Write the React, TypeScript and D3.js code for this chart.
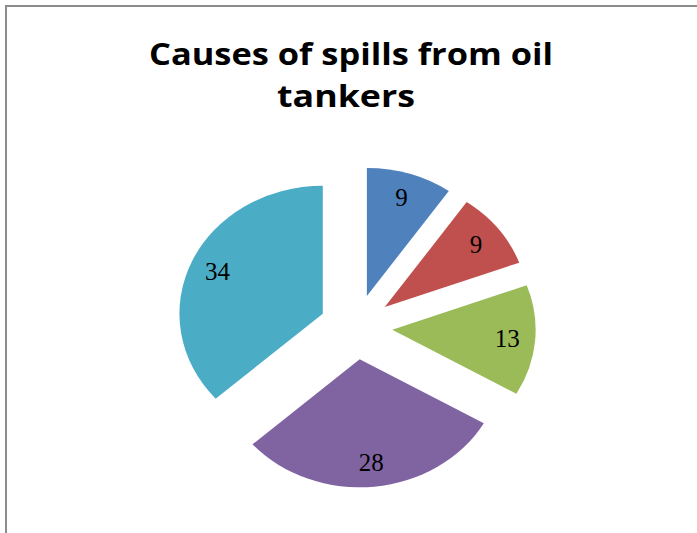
import React from "react";
import * as d3 from "d3";

const title = ["Causes of spills from oil", "tankers"];
const categories = ["Cause A", "Cause B", "Cause C", "Cause D", "Cause E"];
const values = [9, 9, 13, 28, 34];
const colors = ["#4F81BD", "#C0504D", "#9BBB59", "#8064A2", "#4BACC6"];

const W = 697;
const H = 533;
const cx = 356;
const cy = 327;
const radius = 128;
const sx = 1.12;
const explode = 32.5;
const labelR = 103;

export default function App() {
  const pie = d3
    .pie<number>()
    .sort(null)
    .value((d) => d)
    .startAngle(0)
    .endAngle(2 * Math.PI);
  const arcs = pie(values);
  const arc = d3.arc<d3.PieArcDatum<number>>().innerRadius(0).outerRadius(radius);

  const titleStyle = {
    fontFamily: "'Open Sans', sans-serif",
    fontWeight: 700,
    fontSize: 30.5,
    fill: "#000",
  } as const;

  return (
    <svg
      width={W}
      height={H}
      style={{ position: "absolute", left: 0, top: 0, background: "#fff" }}
    >
      <rect x={0} y={0} width={W} height={H} fill="#ffffff" />
      <path d={`M6,${H} L6,6 L${W},6`} fill="none" stroke="#8c8c8c" strokeWidth={2} />
      <text
        x={351}
        y={65}
        textAnchor="middle"
        textLength={404}
        lengthAdjust="spacingAndGlyphs"
        style={titleStyle}
      >
        {title[0]}
      </text>
      <text
        x={346}
        y={107}
        textAnchor="middle"
        textLength={138}
        lengthAdjust="spacingAndGlyphs"
        style={titleStyle}
      >
        {title[1]}
      </text>
      <g transform={`translate(${cx},${cy})`}>
        {arcs.map((a, i) => {
          const mid = (a.startAngle + a.endAngle) / 2;
          const ox = explode * Math.sin(mid);
          const oy = -explode * Math.cos(mid);
          return (
            <g key={categories[i]} transform={`scale(${sx},1) translate(${ox},${oy})`}>
              <path d={arc(a) || ""} fill={colors[i]} />
            </g>
          );
        })}
        {arcs.map((a, i) => {
          const mid = (a.startAngle + a.endAngle) / 2;
          const rr = explode + labelR;
          return (
            <text
              key={"l" + i}
              x={sx * rr * Math.sin(mid)}
              y={-rr * Math.cos(mid)}
              dy="0.35em"
              textAnchor="middle"
              fontFamily="'Liberation Serif', 'Times New Roman', serif"
              fontSize={25}
              fill="#000"
            >
              {values[i]}
            </text>
          );
        })}
      </g>
    </svg>
  );
}
